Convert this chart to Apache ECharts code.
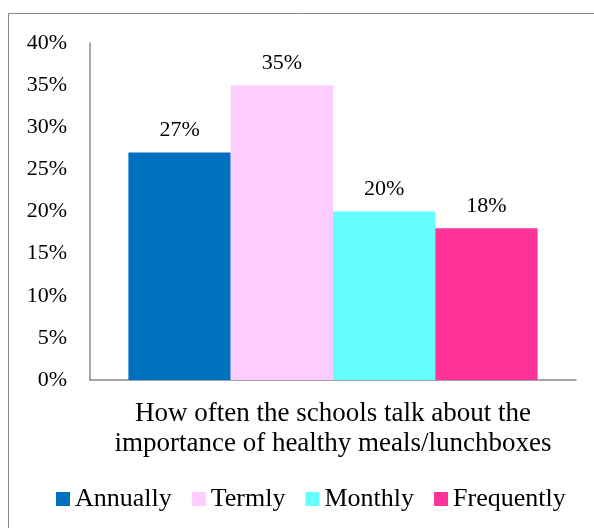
<!DOCTYPE html>
<html>
<head>
<meta charset="utf-8">
<script src="https://cdn.jsdelivr.net/npm/echarts@6/dist/echarts.min.js"></script>
<style>
  html, body { margin: 0; padding: 0; background: #fff; }
  #main { width: 594px; height: 528px; }
</style>
</head>
<body>
<div id="main"></div>
<script>
var categories = ['How often the schools talk about the\nimportance of healthy meals/lunchboxes'];
var seriesNames = ['Annually', 'Termly', 'Monthly', 'Frequently'];
var seriesValues = [[27], [35], [20], [18]];
var seriesColors = ['#0070C0', '#FFCCFF', '#66FFFF', '#FF3399'];
var yTicks = { min: 0, max: 40, interval: 5 };

var chart = echarts.init(document.getElementById('main'));
var font = '"Liberation Serif", "Times New Roman", serif';

var series = seriesNames.map(function (name, i) {
  return {
    name: name,
    type: 'bar',
    data: seriesValues[i],
    barGap: '0%',
    barCategoryGap: '15.8%',
    itemStyle: { color: seriesColors[i] },
    label: {
      show: true,
      position: 'top',
      distance: 11,
      formatter: '{c}%',
      color: '#000',
      fontFamily: font,
      fontSize: 22
    }
  };
});

var option = {
  animation: false,
  textStyle: { fontFamily: font },
  graphic: [{
    type: 'rect',
    shape: { x: 8.5, y: 13.5, width: 700, height: 700 },
    style: { fill: 'none', stroke: '#888', lineWidth: 1 },
    silent: true
  }],
  grid: { left: 90, right: 18, top: 43, bottom: 148 },
  legend: {
    bottom: 11,
    left: 51,
    itemWidth: 14,
    itemHeight: 14,
    itemGap: 20,
    icon: 'rect',
    textStyle: { fontFamily: font, fontSize: 26, color: '#000' },
    data: seriesNames
  },
  xAxis: {
    type: 'category',
    data: categories,
    axisLine: { show: true, lineStyle: { color: '#888', width: 1.5 } },
    axisTick: { show: false },
    axisLabel: {
      margin: 19,
      color: '#000',
      fontFamily: font,
      fontSize: 27,
      lineHeight: 30,
      align: 'center'
    }
  },
  yAxis: {
    type: 'value',
    min: yTicks.min,
    max: yTicks.max,
    interval: yTicks.interval,
    axisLine: { show: true, lineStyle: { color: '#888', width: 1.5 } },
    axisTick: { show: false },
    splitLine: { show: false },
    axisLabel: {
      margin: 23,
      color: '#000',
      fontFamily: font,
      fontSize: 22,
      formatter: '{value}%'
    }
  },
  series: series
};

chart.setOption(option);
</script>
</body>
</html>
